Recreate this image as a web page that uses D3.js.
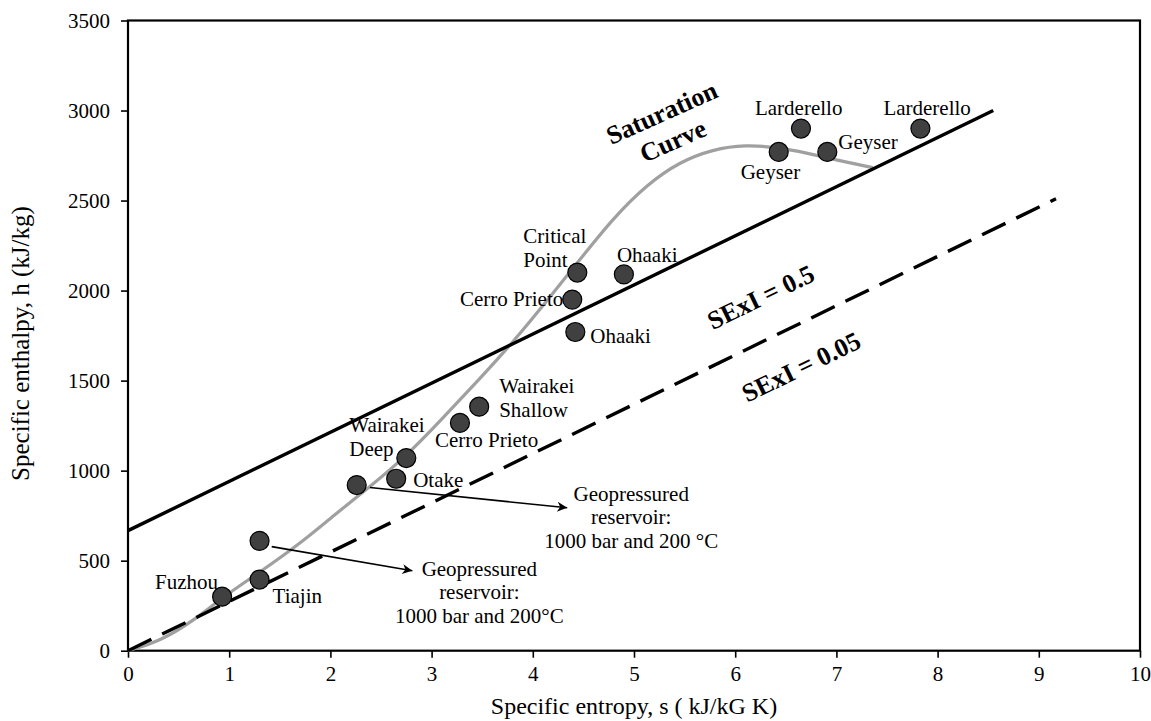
<!DOCTYPE html>
<html>
<head>
<meta charset="utf-8">
<script src="https://cdn.jsdelivr.net/npm/d3@7"></script>
<style>
  body { margin: 0; background: #fff; }
  svg { font-family: "Liberation Serif", "Times New Roman", serif; }
</style>
</head>
<body>
<svg id="chart" width="1151" height="721"></svg>
<script>
// reservoir points (entropy s, enthalpy h)
var pointS = [0.93, 1.30, 1.30, 2.26, 2.65, 2.75, 3.28, 3.47, 4.42, 4.39, 4.44, 4.90, 6.43, 6.65, 6.91, 7.83];
var pointH = [300, 395, 610, 920, 955, 1070, 1265, 1355, 1770, 1950, 2100, 2090, 2770, 2900, 2770, 2900];
var pointNames = ["Fuzhou", "Tiajin", "", "", "Otake", "Wairakei|Deep", "Cerro Prieto", "Wairakei|Shallow",
    "Ohaaki", "Cerro Prieto", "Critical|Point", "Ohaaki", "Geyser", "Larderello", "Geyser", "Larderello"];

// saturation curve
var satS = [0, 0.33, 0.68, 0.93, 1.3, 1.7, 2.03, 2.39, 2.75, 3.1, 3.45, 3.8, 4.15, 4.47, 4.79, 5.13, 5.45, 5.78, 6.1, 6.43, 6.7, 7.0, 7.36];
var satH = [0, 55, 180, 295, 435, 595, 750, 910, 1080, 1285, 1495, 1710, 1950, 2175, 2400, 2590, 2715, 2785, 2810, 2795, 2765, 2725, 2683];

// SExI lines
var sexi05S = [0, 8.55];
var sexi05H = [667, 3000];
var sexi005S = [0, 9.17];
var sexi005H = [0, 2510];

// geopressured arrows
var arrowFromS = [2.39, 1.42];
var arrowFromH = [906, 578];
var arrowToS = [4.34, 2.81];
var arrowToH = [794, 444];
var arrowTexts = [["Geopressured", "reservoir:", "1000 bar and 200 \u00b0C"],
                  ["Geopressured", "reservoir:", "1000 bar and 200\u00b0C"]];

var xTicks = [0, 1, 2, 3, 4, 5, 6, 7, 8, 9, 10];
var yTicks = [0, 500, 1000, 1500, 2000, 2500, 3000, 3500];

// label layout (pixel offsets from point)
var labelDx = [-4, 13, 0, 0, 17, -57, -25, 20, 15, -9, -54, -7, -38, -46, 11, -37];
var labelDy = [-8, 23, 0, 0, 8, -26, 24, -14, 11, 6, -30, -12, 27, -14, -3, -14];
var labelAnchor = ["end", "start", "start", "start", "start", "start", "start", "start",
    "start", "end", "start", "start", "start", "start", "start", "start"];

var margin = { left: 128, right: 11, top: 20.5, bottom: 70.3 };
var width = 1151 - margin.left - margin.right;
var height = 721 - margin.top - margin.bottom;

var svg = d3.select('#chart');
var g = svg.append('g')
    .attr('transform', 'translate(' + margin.left + ',' + margin.top + ')');

var x = d3.scaleLinear().domain([0, 10]).range([0, width]);
var y = d3.scaleLinear().domain([0, 3500]).range([height, 0]);

// axes
var xAxis = g.append('g')
    .attr('transform', 'translate(0,' + height + ')')
    .call(d3.axisBottom(x).tickValues(xTicks).tickFormat(d3.format('d'))
        .tickSize(7).tickSizeOuter(0).tickPadding(8));
var yAxis = g.append('g')
    .call(d3.axisLeft(y).tickValues(yTicks).tickFormat(d3.format('d'))
        .tickSize(7).tickSizeOuter(0).tickPadding(11));
[xAxis, yAxis].forEach(function (a) {
    a.select('.domain').remove();
    a.selectAll('line').attr('stroke', '#000').attr('stroke-width', 1.6);
    a.selectAll('text')
        .attr('fill', '#000')
        .style('font-family', '"Liberation Serif", "Times New Roman", serif')
        .style('font-size', '21px');
});

// box
g.append('rect')
    .attr('x', 0).attr('y', 0)
    .attr('width', width).attr('height', height)
    .attr('fill', 'none')
    .attr('stroke', '#000')
    .attr('stroke-width', 2.2);

// axis titles
svg.append('text')
    .attr('x', margin.left + width / 2)
    .attr('y', 714)
    .attr('text-anchor', 'middle')
    .style('font-size', '24px')
    .text('Specific entropy, s ( kJ/kG K)');
svg.append('text')
    .attr('transform', 'translate(29,' + (margin.top + height / 2 + 8) + ') rotate(-90)')
    .attr('text-anchor', 'middle')
    .style('font-size', '25px')
    .text('Specific enthalpy, h (kJ/kg)');

var line = d3.line()
    .x(function (d) { return x(d[0]); })
    .y(function (d) { return y(d[1]); });

// saturation curve
var satData = satS.map(function (s, i) { return [s, satH[i]]; });
g.append('path')
    .datum(satData)
    .attr('d', line.curve(d3.curveBasis))
    .attr('fill', 'none')
    .attr('stroke', '#a0a0a0')
    .attr('stroke-width', 3.2);

line.curve(d3.curveLinear);
// SExI = 0.5
g.append('path')
    .datum(sexi05S.map(function (s, i) { return [s, sexi05H[i]]; }))
    .attr('d', line)
    .attr('fill', 'none')
    .attr('stroke', '#000')
    .attr('stroke-width', 3.4);
// SExI = 0.05
g.append('path')
    .datum(sexi005S.map(function (s, i) { return [s, sexi005H[i]]; }))
    .attr('d', line)
    .attr('fill', 'none')
    .attr('stroke', '#000')
    .attr('stroke-width', 3.4)
    .attr('stroke-dasharray', '26,12');

// arrow marker
svg.append('defs').append('marker')
    .attr('id', 'arrow')
    .attr('viewBox', '0 0 10 10')
    .attr('refX', 10).attr('refY', 5)
    .attr('markerWidth', 16).attr('markerHeight', 10)
    .attr('markerUnits', 'userSpaceOnUse')
    .attr('orient', 'auto')
    .append('path')
    .attr('d', 'M0,0 L10,5 L0,10 L3,5 Z')
    .attr('fill', '#000');

arrowFromS.forEach(function (s, i) {
    g.append('line')
        .attr('x1', x(s)).attr('y1', y(arrowFromH[i]))
        .attr('x2', x(arrowToS[i])).attr('y2', y(arrowToH[i]))
        .attr('stroke', '#000')
        .attr('stroke-width', 1.6)
        .attr('marker-end', 'url(#arrow)');
});

// points
var pts = pointS.map(function (s, i) { return { s: s, h: pointH[i], name: pointNames[i], i: i }; });
g.selectAll('circle.pt')
    .data(pts)
    .enter()
    .append('circle')
    .attr('class', 'pt')
    .attr('cx', function (d) { return x(d.s); })
    .attr('cy', function (d) { return y(d.h); })
    .attr('r', 9.5)
    .attr('fill', '#404040')
    .attr('stroke', '#000')
    .attr('stroke-width', 1.2);

// point labels
pts.filter(function (d) { return d.name !== ''; }).forEach(function (d) {
    var px = x(d.s) + labelDx[d.i];
    var py = y(d.h) + labelDy[d.i];
    var t = g.append('text')
        .attr('x', px).attr('y', py)
        .attr('text-anchor', labelAnchor[d.i])
        .style('font-size', '21px');
    d.name.split('|').forEach(function (part, k) {
        t.append('tspan')
            .attr('x', px)
            .attr('dy', k === 0 ? 0 : 24)
            .text(part);
    });
});

// arrow texts
var arrowTextDx = [64, 67];
var arrowTextDy = [-7, 5];
arrowTexts.forEach(function (lines, i) {
    var px = x(arrowToS[i]) + arrowTextDx[i];
    var py = y(arrowToH[i]) + arrowTextDy[i];
    var t = g.append('text')
        .attr('x', px).attr('y', py)
        .attr('text-anchor', 'middle')
        .style('font-size', '21px');
    lines.forEach(function (part, k) {
        t.append('tspan').attr('x', px).attr('dy', k === 0 ? 0 : 23.5).text(part);
    });
});

// rotated bold labels
var lineAngle = Math.atan2(y(0) - y(273), x(1) - x(0)) * 180 / Math.PI;
function boldLabel(s, h, angle, txt) {
    g.append('text')
        .attr('transform', 'translate(' + x(s) + ',' + y(h) + ') rotate(' + (-angle) + ')')
        .attr('text-anchor', 'middle')
        .style('font-size', '26px')
        .style('font-weight', 'bold')
        .text(txt);
}
boldLabel(5.31, 2943, 24, 'Saturation');
boldLabel(5.42, 2787, 24, 'Curve');
boldLabel(6.29, 1920, lineAngle, 'SExI = 0.5');
boldLabel(6.69, 1532, lineAngle, 'SExI = 0.05');
</script>
</body>
</html>
